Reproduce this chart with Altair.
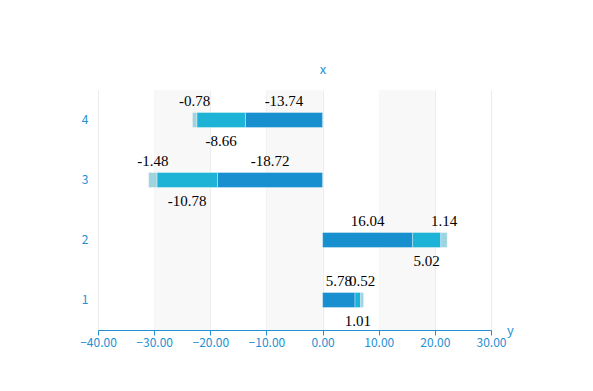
import altair as alt
import pandas as pd

categories = ["1", "2", "3", "4"]
series_names = ["a", "b", "c"]
series1 = [5.78, 16.04, -18.72, -13.74]
series2 = [1.01, 5.02, -10.78, -8.66]
series3 = [0.52, 1.14, -1.48, -0.78]
colors = ["#1890d0", "#1db3d6", "#9fd3df"]
x_ticks = [-40, -30, -20, -10, 0, 10, 20, 30]
band_starts = [-30, -10, 10]
band_ends = [-20, 0, 20]

rows = []
for i, c in enumerate(categories):
    acc = 0.0
    for k, vals in enumerate([series1, series2, series3]):
        v = vals[i]
        start = acc
        acc = acc + v
        rows.append({"cat": c, "series": series_names[k], "order": k,
                     "value": v, "start": start, "end": acc,
                     "mid": (start + acc) / 2, "label": f"{v:.2f}",
                     "pos": "below" if k == 1 else "above"})
df = pd.DataFrame(rows)
bands = pd.DataFrame({"b0": band_starts, "b1": band_ends})

AXIS_BLUE = "#2290d3"
AXIS_FONT = "Noto Sans CJK SC"
xscale = alt.Scale(domain=[-40, 30], nice=False, zero=False)
yscale = alt.Scale(domain=["4", "3", "2", "1"], paddingInner=0, paddingOuter=0)

band_layer = alt.Chart(bands).mark_rect(color="#f8f8f8").encode(
    x=alt.X("b0:Q", scale=xscale,
            axis=alt.Axis(values=x_ticks, format=".2f", grid=True, gridColor="#ebebeb",
                          domainColor=AXIS_BLUE, tickColor=AXIS_BLUE, tickSize=5,
                          labelColor=AXIS_BLUE, labelFont=AXIS_FONT, labelFontSize=12,
                          labelPadding=2, title="y", titleColor=AXIS_BLUE,
                          titleFont=AXIS_FONT, titleFontSize=13, titleFontWeight="normal",
                          titleX=412, titleY=0, titleBaseline="middle", titleAlign="center",
                          labelFlush=False)),
    x2="b1:Q",
)

bars = alt.Chart(df).mark_bar(size=15, stroke="white", strokeWidth=1, strokeOpacity=0.35).encode(
    x=alt.X("start:Q", scale=xscale),
    x2="end:Q",
    y=alt.Y("cat:N", scale=yscale,
            axis=alt.Axis(ticks=False, domain=False, grid=False, labelColor=AXIS_BLUE,
                          labelFont=AXIS_FONT, labelFontSize=12, labelPadding=10,
                          title="x", titleColor=AXIS_BLUE, titleFont=AXIS_FONT,
                          titleFontSize=13, titleFontWeight="normal", titleAngle=0,
                          titleX=224.5, titleY=-21, titleAlign="center",
                          titleBaseline="middle")),
    color=alt.Color("series:N", scale=alt.Scale(domain=series_names, range=colors), legend=None),
)

text_style = dict(font="Liberation Serif", fontSize=15, color="black", baseline="middle", align="center")
above = alt.Chart(df).transform_filter(alt.datum.pos == "above").mark_text(dy=-19, **text_style).encode(
    x=alt.X("mid:Q", scale=xscale), y=alt.Y("cat:N", scale=yscale), text="label:N")
below = alt.Chart(df).transform_filter(alt.datum.pos == "below").mark_text(dy=21, **text_style).encode(
    x=alt.X("mid:Q", scale=xscale), y=alt.Y("cat:N", scale=yscale), text="label:N")

chart = alt.layer(band_layer, bars, above, below).properties(
    width=393, height=240, autosize="none",
    padding={"left": 90, "top": 82, "right": 90, "bottom": 60},
).configure_view(stroke=None)

chart.save("out.html", embed_options={"renderer": "svg", "actions": False})
